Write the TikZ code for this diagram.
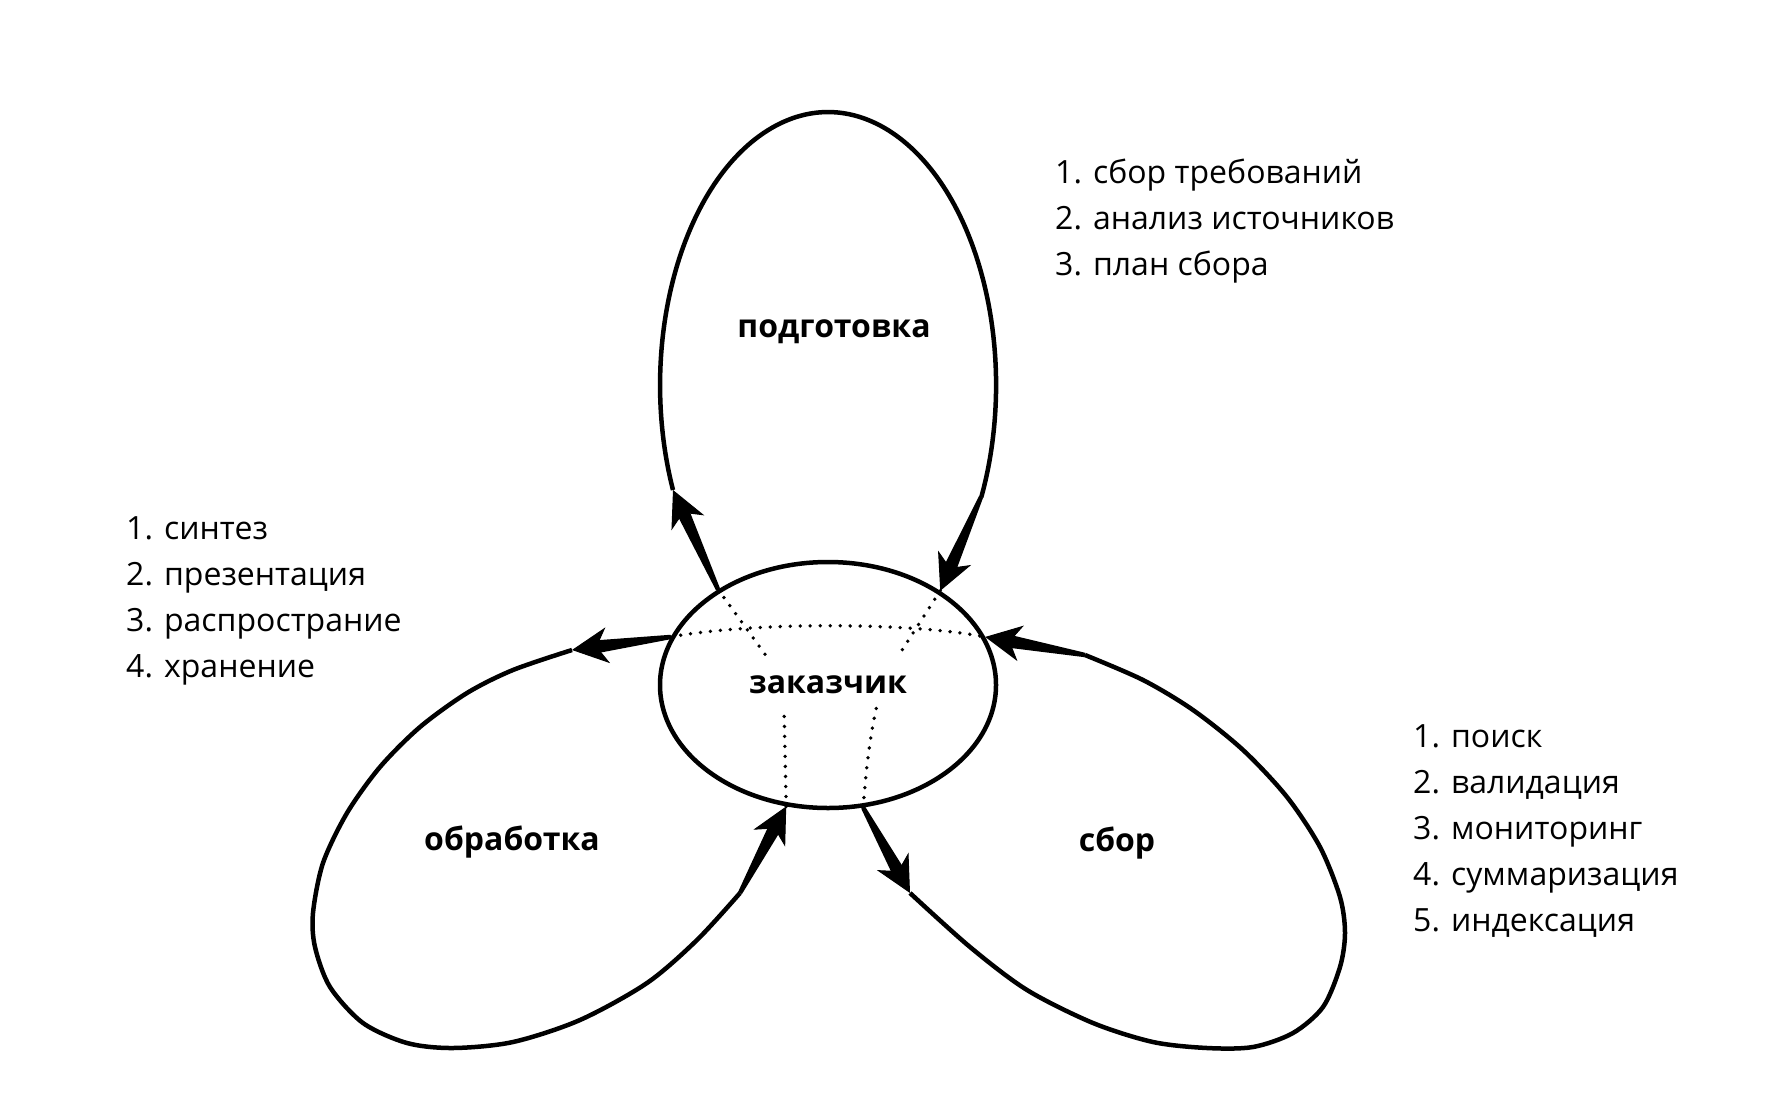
\documentclass[tikz,border=0pt]{standalone}
\usepackage{fontspec}
\setmainfont{Open Sans}
\usetikzlibrary{arrows.meta,calc,shapes.geometric}

% tapered shaft with a stealth head, from #1 to #2
\newcommand\flowarrow[2]{%
  \coordinate (fa-s) at (#1);
  \coordinate (fa-t) at (#2);
  \coordinate (fa-m) at ($(fa-t)!24pt!(fa-s)$);
  \fill ($(fa-s)!2.2pt!90:(fa-t)$) -- ($(fa-m)!6.5pt!-90:(fa-s)$) -- ($(fa-m)!6.5pt!90:(fa-s)$) -- ($(fa-s)!2.2pt!-90:(fa-t)$) -- cycle;
  \draw[arrowtip] (fa-s) -- (fa-t);}

\begin{document}
\begin{tikzpicture}[x=1pt, y=-1pt,
  hub/.style={ellipse, draw, line width=4.5pt, minimum width=336pt, minimum height=246pt, inner sep=0pt, font=\fontsize{32}{38}\selectfont\bfseries},
  title/.style={font=\fontsize{32}{38}\selectfont\bfseries},
  listitem/.style={anchor=base west, inner sep=0pt, font=\fontsize{32}{38}\selectfont},
  lobe/.style={line width=4.5pt},
  hint/.style={line width=3.8pt, line cap=round, dash pattern=on 0pt off 10pt},
  arrowtip/.style={line width=1pt, -{Stealth[length=36pt, width=36pt, inset=11pt]}}]

\path[fill=white] (0,0) rectangle (1768,1116);
\useasboundingbox (0,0) rectangle (1768,1116);

\node[hub] (cust) at (828,685) {заказчик};

% подготовка
\coordinate (prep-out) at (673,490);
\coordinate (prep-in) at (981,497);
\draw[lobe] (prep-out) arc[start angle=157.4, end angle=384.3, x radius=168, y radius=273];
\node[title] (prep) at (834,332) {подготовка};
\flowarrow{cust.139}{prep-out}
\flowarrow{prep-in}{cust.40}

% обработка
\coordinate (proc-out) at (572,650);
\coordinate (proc-in) at (740,893);
\draw[lobe] plot[smooth, tension=0.5] coordinates {(572,650) (513,670) (467,693) (420,727) (380,767) (347,813) (323,863) (313,913) (315,947) (330,987) (363,1023) (407,1043) (453,1048) (513,1042) (580,1020) (647,983) (697,940) (740,893)};
\node[title] (proc) at (512,842) {обработка};
\flowarrow{cust.163}{proc-out}
\flowarrow{proc-in}{cust.251}

% сбор
\coordinate (coll-out) at (910,893);
\coordinate (coll-in) at (1085,655);
\draw[lobe] plot[smooth, tension=0.5] coordinates {(1085,655) (1143,680) (1193,710) (1243,750) (1287,797) (1320,847) (1340,897) (1345,933) (1340,967) (1323,1007) (1293,1033) (1253,1047) (1207,1048) (1153,1042) (1093,1023) (1027,990) (970,947) (910,893)};
\node[title] (coll) at (1117,843) {сбор};
\flowarrow{cust.286}{coll-out}
\flowarrow{coll-in}{cust.17}

% dotted guides inside the hub
\coordinate (d1) at (767,657);
\coordinate (d2) at (897,658);
\coordinate (d3) at (784,708);
\coordinate (d4) at (877,705);
\draw[hint] (cust.163) .. controls (750,622) and (910,622) .. (cust.17);
\draw[hint] (cust.139) -- (d1);
\draw[hint] (cust.40) -- (d2);
\draw[hint] (cust.251) -- (d3);
\draw[hint] (cust.286) .. controls (866,770) and (870,735) .. (d4);

% lists
\foreach \t [count=\i] in {1. сбор требований, 2. анализ источников, 3. план сбора}
  \node[listitem] (prep-l\i) at (1055,137+46*\i) {\t};
\foreach \t [count=\i] in {1. синтез, 2. презентация, 3. распространие, 4. хранение}
  \node[listitem] (proc-l\i) at (126,493+46*\i) {\t};
\foreach \t [count=\i] in {1. поиск, 2. валидация, 3. мониторинг, 4. суммаризация, 5. индексация}
  \node[listitem] (coll-l\i) at (1413,701+46*\i) {\t};
\end{tikzpicture}
\end{document}
